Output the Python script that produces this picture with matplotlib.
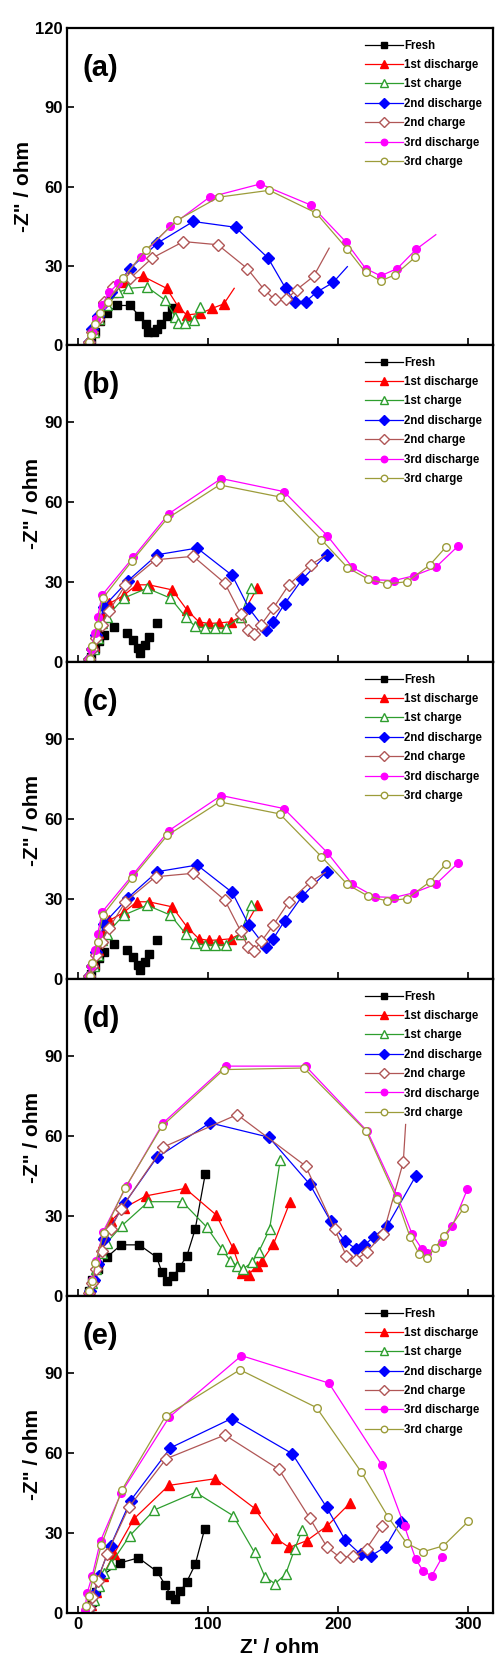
import matplotlib
matplotlib.use("Agg")
import matplotlib.pyplot as plt

plt.rcParams['font.family'] = ['Liberation Sans', 'DejaVu Sans']
plt.rcParams['font.weight'] = 'bold'

# legend names, one per series
names = ['Fresh', '1st discharge', '1st charge', '2nd discharge',
         '2nd charge', '3rd discharge', '3rd charge']

# (Z', -Z'') points, one list per series and panel
a_fresh = [(10, 1), (13, 5), (17, 9), (22, 12), (30, 15), (40, 15), (47, 11), (52, 8),
           (54, 5), (58, 5), (61, 6), (64, 8), (68, 11), (72, 14)]
a_dis1 = [(9, 1), (12, 5), (16, 10), (21, 15), (27, 20), (35, 24), (50, 26), (68, 21.5),
          (77, 14.5), (83.5, 11.4), (94, 12), (103, 13.9), (112, 15.6), (120, 21.5)]
a_chg1 = [(9, 1), (12, 5), (16, 10), (22, 15), (31, 20), (38.7, 21.5), (53, 22), (67, 17),
          (74.6, 10.8), (77, 8.2), (82, 8.2), (88.7, 9.5), (94, 14.5)]
a_dis2 = [(8, 1), (11, 6), (15, 11), (20, 16), (25, 20), (40, 29), (61, 38.6), (88.5, 46.8),
          (121, 44.6), (146, 33), (159.5, 21.5), (166.7, 16.5), (175, 16.5), (183.3, 20),
          (196, 23.7), (207, 29.7)]
a_chg2 = [(8, 1), (11, 5), (15, 10), (20, 16.5), (27, 22), (40, 25.3), (57, 33), (81, 39.2),
          (107.4, 38), (130, 29), (143, 21), (151, 17.3), (160, 17.3), (168, 21), (181, 26),
          (193, 36.7)]
a_dis3 = [(8, 1), (11, 5), (14, 10), (18, 15), (24, 20), (31, 23.4), (48, 33.5), (71, 45),
          (101, 56), (140, 61), (179, 53), (206, 39), (221, 29), (232.6, 26.2), (245.4, 29),
          (260, 36.3), (275, 41.8)]
a_chg3 = [(8, 1), (10, 4), (13, 8), (17, 12), (22.8, 16.5), (34.6, 25.3), (52, 36), (76, 47.2),
          (108, 56), (147, 58.6), (183, 50), (207, 36.3), (221, 27.5), (232.6, 24.3),
          (243.6, 26.6), (259, 33.2)]

b_fresh = [(10, 2), (13, 5), (16, 8), (19.5, 10.1), (27.2, 13.2), (37.5, 10.8), (42, 8.2),
           (46.4, 5.1), (47.7, 3.3), (51.5, 6.4), (54.8, 9.5), (61, 14.7)]
b_dis1 = [(9, 2), (12, 6), (15, 11), (19, 17), (24, 22), (35, 25), (45, 29), (54.4, 29),
          (72.3, 27.1), (83.8, 19.5), (92.8, 15.1), (100.5, 14.5), (108.2, 14.7),
          (117.2, 15.1), (125, 17), (137.7, 27.7)]
b_chg1 = [(9, 1), (12, 5), (15, 9), (18.5, 14.5), (22, 17), (35, 24), (53, 27.7), (71, 24),
          (82.6, 17), (89.7, 13.5), (97.4, 12.8), (105, 12.8), (113.3, 12.8), (125, 17),
          (132.6, 27.7)]
b_dis2 = [(8, 1), (11, 5), (14, 10), (19.7, 20.8), (38.5, 30.6), (60.8, 40.3), (91.5, 42.8),
          (118.5, 32.5), (131.3, 20.2), (144.1, 12), (150, 15.1), (158.7, 21.8),
          (172.3, 31.1), (191, 40.3)]
b_chg2 = [(8, 1), (11, 5), (14, 9), (18, 14), (23.6, 19), (36.4, 29), (59.5, 38.4),
          (88.5, 39.7), (112.8, 29.6), (125, 18), (130.5, 12), (135, 10.7), (140.8, 14.1),
          (150, 20.2), (162, 29), (178.7, 36.5), (190, 40)]
b_dis3 = [(8, 1), (10, 5), (13, 11), (15, 17), (18.5, 25.2), (42.3, 39.3), (69.7, 55.7),
          (110, 68.9), (158.2, 64), (191.5, 47.5), (210.8, 35.6), (228, 30.9),
          (242.8, 30.6), (258.2, 32.4), (275, 35.6), (292, 43.5)]
b_chg3 = [(9, 1), (11, 6), (15, 14), (19, 24), (41.5, 38), (68.5, 53.9), (108.7, 66.5),
          (155, 62), (187, 46), (207, 35.5), (223, 31.1), (237.7, 29.3), (253, 30.2),
          (270.5, 36.5), (282.6, 43.1)]

# panel (c) repeats panel (b)
c_fresh, c_dis1, c_chg1, c_dis2, c_chg2, c_dis3, c_chg3 = (
    b_fresh, b_dis1, b_chg1, b_dis2, b_chg2, b_dis3, b_chg3)

d_fresh = [(8, 2), (11, 6), (15, 10), (22, 14.5), (33, 19.2), (47, 19.2), (60.5, 14.5),
           (64.4, 8.9), (68.2, 5.7), (73.3, 7.6), (78, 10.8), (83.6, 15.1), (90, 25.1),
           (97.7, 45.7)]
d_dis1 = [(9, 2), (12, 7), (15, 13), (19, 20), (25, 28), (35, 33), (52.3, 37.6), (82.3, 40.4),
          (106.2, 30.4), (119, 18), (126, 8.5), (131, 8), (137.4, 11.4), (141.3, 13.2),
          (150.2, 19.5), (163, 35.4)]
d_chg1 = [(8, 1), (11, 5), (14, 10), (18, 16), (22, 20), (33.6, 26.4), (54, 35.4), (80, 35.4),
          (99, 25.8), (110.5, 17.6), (117, 13.2), (122, 11.4), (126.7, 10.1), (133.6, 12.6),
          (138.7, 16.4), (147.2, 25.1), (155.4, 51.1)]
d_dis2 = [(9, 2), (12, 6), (15, 12), (19.5, 21.4), (36.2, 35.1), (60.5, 52), (101.3, 65),
          (146.7, 59.6), (178.2, 41.9), (194.1, 28.1), (205.1, 20.6), (213.3, 17.8),
          (220, 19), (227.4, 22.3), (237.7, 26.3), (259.5, 45)]
d_chg2 = [(8, 1), (11, 5), (14, 10), (18, 17), (25, 25), (32.6, 32.5), (65.4, 55.9),
          (122.3, 68.1), (174.9, 48.8), (197.4, 25), (206.2, 15), (213.3, 13.5),
          (221.8, 16.5), (234.6, 23.4), (250, 50.3), (251.8, 64.4)]
d_dis3 = [(8, 1), (11, 6), (14, 13), (19, 24), (37.2, 41.3), (65.4, 65), (113.3, 86.3),
          (174.9, 86.3), (222.3, 61.9), (245.4, 37.5), (256.9, 23.1), (264.1, 17.8),
          (268.5, 16.3), (279.5, 20.3), (287.7, 26.3), (299.2, 40)]
d_chg3 = [(8.2, 1.9), (10.8, 5.6), (13.3, 12.5), (19.7, 23.8), (35.9, 40.4), (64.6, 63.8),
          (112, 85), (173.6, 85.6), (221.5, 61.9), (244.9, 36.6), (255.1, 22.3),
          (262.1, 15.9), (268.5, 14.4), (274.4, 18.1), (281.3, 22.5), (296.7, 33.1)]

e_fresh = [(8, 1), (11, 4), (14, 8), (17.5, 13.7), (32.3, 18.8), (46.4, 20.7), (60.5, 15.6),
           (66.9, 10.6), (70.8, 6.8), (74.6, 5.2), (78.5, 8.1), (83.6, 11.8), (90, 18.2),
           (97.2, 31.4)]
e_dis1 = [(10, 3), (14, 8), (19, 14), (27.4, 22), (42.8, 35.3), (69.7, 47.9), (105.6, 50.4),
          (135.6, 39.3), (152, 28), (162.3, 24.6), (175.6, 27.1), (191.5, 32.7), (209, 41.2)]
e_chg1 = [(9, 1), (12, 5), (16, 10), (20, 15), (24.9, 18.3), (39.7, 29), (58.7, 38.7),
          (90.3, 45.3), (119.2, 36.5), (135.6, 22.7), (143.6, 13.6), (151.3, 11),
          (159.5, 14.5), (166.4, 23.9), (172.3, 31.2)]
e_dis2 = [(8, 2), (12, 7), (16, 14), (24.9, 25.2), (40.3, 42.2), (71, 62), (118, 73),
          (164.6, 59.8), (191, 39.7), (205.1, 27.5), (217.2, 22), (224.9, 21.4),
          (236.4, 24.8), (247.9, 34.3)]
e_chg2 = [(8, 2), (11, 6), (15, 12), (22, 22), (39, 39.7), (67.7, 57.9), (112.8, 66.8),
          (154.4, 53.9), (178.2, 35.5), (191.5, 24.6), (201, 21), (211.3, 21.2),
          (221.8, 24.2), (233.3, 32.5)]
e_dis3 = [(5, 1), (7, 7.6), (10.8, 13.9), (17.2, 27.1), (33, 45), (70, 73.5), (125.6, 96.6),
          (192.8, 86.3), (233.3, 55.7), (251, 32.5), (259.5, 20.2), (265.4, 15.7),
          (271.8, 13.9), (280, 21)]
e_chg3 = [(6.4, 2.5), (8.2, 6.3), (11.5, 13.2), (17.7, 25.4), (33.8, 46.3), (67.2, 73.9),
          (124.4, 91.3), (183.3, 77.1), (217.7, 52.9), (238.5, 35.9), (252.6, 26.2),
          (265.4, 23), (280.8, 25.2), (300, 34.4)]

# last point is only the end of the line (no marker) for these series
a_tails = [False, True, False, True, True, True, False]
b_tails = [False, False, False, False, True, False, False]
d_tails = [False, False, False, False, True, False, False]
no_tails = [False] * 7

panel_tags = ['(a)', '(b)', '(c)', '(d)', '(e)']

# style of each series: colour, marker, filled, marker size
colors = ['black', '#ff0000', '#2e9e2e', '#0000ff', '#b05656', '#ff00ff', '#9c9c3a']
markers = ['s', '^', '^', 'D', 'D', 'o', 'o']
filled = [True, True, False, True, False, True, False]
msizes = [5.5, 6.5, 6.5, 6, 6, 5.5, 5.5]

panels = [
    ([a_fresh, a_dis1, a_chg1, a_dis2, a_chg2, a_dis3, a_chg3], a_tails, True),
    ([b_fresh, b_dis1, b_chg1, b_dis2, b_chg2, b_dis3, b_chg3], b_tails, False),
    ([c_fresh, c_dis1, c_chg1, c_dis2, c_chg2, c_dis3, c_chg3], b_tails, False),
    ([d_fresh, d_dis1, d_chg1, d_dis2, d_chg2, d_dis3, d_chg3], d_tails, True),
    ([e_fresh, e_dis1, e_chg1, e_dis2, e_chg2, e_dis3, e_chg3], no_tails, True),
]

fig = plt.figure(figsize=(4.97, 16.55), dpi=100)
axes = fig.subplots(5, 1, sharex=True)
fig.subplots_adjust(left=0.135, right=0.992, top=0.983, bottom=0.0254, hspace=0)

for i, (ax, (series, tails, fresh_line)) in enumerate(zip(axes, panels)):
    for j, pts in enumerate(series):
        xs = [p[0] for p in pts]
        ys = [p[1] for p in pts]
        every = slice(0, len(pts) - 1) if tails[j] else None
        ax.plot(xs, ys, linestyle='-', color=colors[j], linewidth=0.9,
                marker=markers[j], markersize=msizes[j], markevery=every,
                markerfacecolor=colors[j] if filled[j] else 'white',
                markeredgecolor=colors[j], markeredgewidth=1.0,
                label=names[j])
    leg = ax.legend(loc='upper right', bbox_to_anchor=(0.985, 0.978),
                    frameon=False, fontsize=8.3, handlelength=3.3, handletextpad=0.1,
                    labelspacing=0.64, borderaxespad=0, markerscale=0.85)
    for t in leg.get_texts():
        t.set_fontweight('bold')
    # fresh cell shown as bare points in (b) and (c)
    if not fresh_line:
        ax.lines[0].set_linestyle('none')

    ax.text(0.035, 0.875, panel_tags[i], transform=ax.transAxes, fontsize=21,
            fontweight='bold', va='center', ha='left')
    ax.set_xlim(-8.5, 319)
    if i == 0:
        ax.set_ylim(0, 120)
        ax.set_yticks([0, 30, 60, 90, 120])
    else:
        ax.set_ylim(0, 119)
        ax.set_yticks([0, 30, 60, 90])
    ax.set_xticks([0, 100, 200, 300])
    ax.tick_params(direction='in', length=5, width=1.2, labelsize=12, pad=3)
    for sp in ax.spines.values():
        sp.set_linewidth(1.6)
    ax.set_ylabel('-Z" / ohm', fontsize=15, fontweight='bold', labelpad=2)

axes[-1].set_xlabel("Z' / ohm", fontsize=15, fontweight='bold', labelpad=4)

fig.savefig('out.png', dpi=100)
